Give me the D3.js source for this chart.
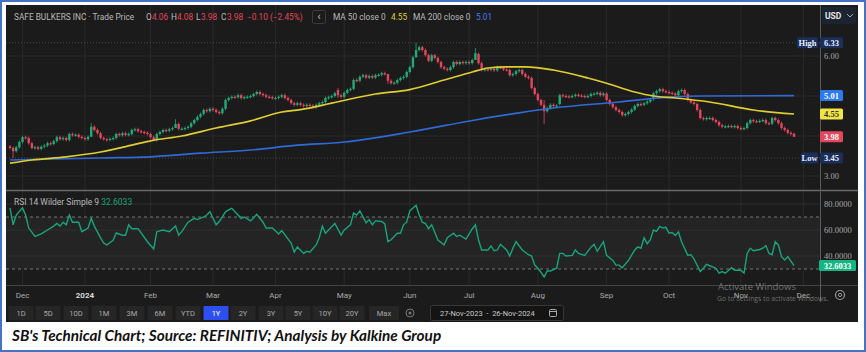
<!DOCTYPE html>
<html>
<head>
<meta charset="utf-8">
<script src="https://cdn.jsdelivr.net/npm/d3@7"></script>
<style>
body { margin: 0; background: #fff; }
svg { display: block; }
</style>
</head>
<body>
<div id="chart"></div>
<script>
var width = 866, height = 352

// trading-day index of each month label
var monthLabels = ["Dec", "2024", "Feb", "Mar", "Apr", "May", "Jun", "Jul", "Aug", "Sep", "Oct", "Nov", "Dec"]
var monthIndex = [4, 24, 45, 65, 85, 107, 128, 147, 169, 191, 211, 234, 254]

// daily bars, 27-Nov-2023 .. 26-Nov-2024
var opens = [
  3.74,3.70,3.62,3.72,3.85,3.97,3.95,3.82,3.70,3.72,
  3.68,3.73,3.76,3.82,3.80,3.87,3.97,3.92,3.95,3.90,
  4.05,4.02,4.03,3.98,3.95,3.92,3.98,4.23,4.15,4.07,
  3.95,3.92,3.90,3.93,3.95,4.05,4.02,4.07,4.03,4.05,
  4.15,4.17,4.12,4.10,4.08,4.05,3.97,3.90,4.05,4.10,
  4.15,4.13,4.17,4.20,4.30,4.18,4.18,4.20,4.23,4.32,
  4.40,4.48,4.55,4.65,4.62,4.68,4.65,4.60,4.57,4.68,
  4.90,4.95,4.98,4.97,5.02,4.95,4.97,4.98,5.00,5.05,
  5.10,5.05,5.02,4.98,4.97,4.95,4.95,4.98,5.02,4.95,
  4.90,4.82,4.78,4.82,4.78,4.75,4.78,4.76,4.72,4.78,
  4.82,4.85,4.95,4.97,5.00,5.15,5.02,4.98,5.08,5.15,
  5.18,5.40,5.38,5.48,5.52,5.46,5.50,5.46,5.52,5.53,
  5.57,5.55,5.38,5.32,5.33,5.40,5.45,5.48,5.60,5.72,
  5.97,6.15,6.22,6.15,6.02,5.88,6.02,5.95,5.85,5.72,
  5.68,5.65,5.72,5.85,5.80,5.85,5.82,5.85,5.82,5.90,
  6.05,5.82,5.65,5.67,5.65,5.68,5.64,5.72,5.70,5.66,
  5.65,5.52,5.55,5.62,5.65,5.55,5.48,5.45,5.20,5.05,
  4.90,4.78,4.62,4.70,4.78,4.75,4.80,5.02,5.00,4.99,
  4.98,5.00,5.03,5.01,5.00,4.98,5.00,5.05,5.06,5.08,
  5.02,5.06,4.90,4.80,4.72,4.65,4.60,4.52,4.55,4.60,
  4.66,4.75,4.80,4.78,4.82,4.86,4.92,5.07,5.12,5.17,
  5.12,5.10,5.08,5.06,5.02,5.12,5.15,5.05,4.90,4.84,
  4.80,4.65,4.45,4.42,4.45,4.45,4.40,4.35,4.27,4.23,
  4.24,4.25,4.23,4.25,4.20,4.18,4.20,4.32,4.40,4.37,
  4.36,4.38,4.40,4.32,4.31,4.45,4.40,4.32,4.20,4.15,
  4.08,4.06]
var closes = [
  3.70,3.62,3.72,3.85,3.97,3.95,3.82,3.70,3.72,3.68,
  3.73,3.76,3.82,3.80,3.87,3.97,3.92,3.95,3.90,4.05,
  4.02,4.03,3.98,3.95,3.92,3.98,4.23,4.15,4.07,3.95,
  3.92,3.90,3.93,3.95,4.05,4.02,4.07,4.03,4.05,4.15,
  4.17,4.12,4.10,4.08,4.05,3.97,3.90,4.05,4.10,4.15,
  4.13,4.17,4.20,4.30,4.18,4.18,4.20,4.23,4.32,4.40,
  4.48,4.55,4.65,4.62,4.68,4.65,4.60,4.57,4.68,4.90,
  4.95,4.98,4.97,5.02,4.95,4.97,4.98,5.00,5.05,5.10,
  5.05,5.02,4.98,4.97,4.95,4.95,4.98,5.02,4.95,4.90,
  4.82,4.78,4.82,4.78,4.75,4.78,4.76,4.72,4.78,4.82,
  4.85,4.95,4.97,5.00,5.07,5.02,4.98,5.08,5.15,5.18,
  5.40,5.38,5.48,5.52,5.46,5.50,5.46,5.52,5.53,5.57,
  5.55,5.38,5.32,5.33,5.40,5.45,5.48,5.60,5.72,5.97,
  6.15,6.22,6.15,6.02,5.88,6.02,5.95,5.85,5.72,5.68,
  5.65,5.72,5.85,5.80,5.85,5.82,5.85,5.82,5.90,6.07,
  5.82,5.65,5.67,5.65,5.68,5.64,5.72,5.70,5.66,5.65,
  5.52,5.55,5.62,5.65,5.55,5.48,5.45,5.20,5.05,4.90,
  4.78,4.62,4.70,4.78,4.75,4.76,5.02,5.00,4.99,4.98,
  5.00,5.03,5.01,5.00,4.98,5.00,5.05,5.06,5.08,5.02,
  5.06,4.90,4.80,4.72,4.65,4.60,4.52,4.55,4.60,4.66,
  4.75,4.80,4.78,4.82,4.86,4.90,5.07,5.12,5.17,5.12,
  5.10,5.08,5.06,5.02,5.12,5.15,5.05,4.90,4.84,4.80,
  4.65,4.45,4.42,4.45,4.45,4.40,4.35,4.27,4.23,4.24,
  4.25,4.23,4.25,4.20,4.18,4.20,4.32,4.40,4.37,4.36,
  4.38,4.40,4.32,4.31,4.45,4.40,4.32,4.20,4.15,4.08,
  4.05,3.98]
// long wicks: [day, high, low]
var spikes = [[1, 3.74, 3.45], [26, 4.32, 3.98], [53, 4.42, 4.20], [105, 5.20, 4.95],
  [121, 5.55, 5.30], [130, 6.33, 5.95], [149, 6.20, 5.90], [171, 4.90, 4.30], [251, 4.08, 3.98]]

// moving averages: [day, value]
var ma50 = [[0,3.32],[7,3.40],[18,3.48],[29,3.60],[39,3.77],[45,3.88],[55,4.00],[66,4.20],
  [77,4.38],[87,4.60],[93,4.66],[103,4.82],[117,5.05],[128,5.16],[139,5.40],[148,5.60],
  [153,5.70],[159,5.73],[165,5.73],[174,5.65],[185,5.45],[191,5.32],[200,5.10],[206,5.00],
  [213,4.95],[224,4.85],[238,4.65],[251,4.55]]
var ma200 = [[0,3.40],[29,3.45],[45,3.48],[61,3.57],[77,3.65],[92,3.77],[107,3.85],[128,4.10],
  [149,4.40],[163,4.58],[174,4.70],[195,4.85],[211,4.97],[222,5.00],[251,5.01]]

// RSI 14: [day, value]
var rsi = [[0,77],[1,64],[2,71.5],[4,77],[5,71.5],[6,61.5],[8,55],[10,57],[12,60],[14,63],[15,65],
  [16,63],[17,66],[18,64],[19,71.5],[20,66],[22,66],[23,58.7],[25,61.5],[26,69],[27,63],[29,54],
  [30,50],[31,48.5],[33,52],[34,57.7],[36,56],[37,56],[38,64],[39,61],[41,61],[44,51],[46,45.4],
  [47,58.7],[49,60],[51,58.7],[53,63],[54,56],[55,58.7],[57,66],[59,69],[60,68],[62,70],[63,71.5],
  [64,74],[66,64],[67,66.5],[69,74],[70,75.5],[71,76.7],[74,69],[75,70],[77,67],[79,72],[81,66],
  [82,61.5],[84,61.5],[86,57],[87,59.5],[90,50],[91,43],[92,47],[94,42],[95,43.6],[96,43],
  [98,48.5],[99,54],[100,63],[101,57.5],[103,62.5],[104,65],[106,56],[107,60],[109,64],[110,73],
  [111,71.5],[112,74.7],[114,65.5],[115,68],[116,64],[117,67],[119,66.5],[120,64.7],[121,51],
  [122,52.5],[124,57.5],[125,57.5],[126,64],[127,66],[128,74.7],[130,79],[131,71.5],[132,66],
  [133,65],[134,61],[135,64],[137,52.3],[139,48.5],[140,54],[142,57.5],[143,55],[144,56],[146,53],
  [148,61],[149,64],[150,52.3],[151,44.6],[153,44.6],[154,47.7],[155,44],[156,44.6],[157,49],
  [159,44.6],[160,40],[161,46],[162,51],[164,44.6],[166,41],[167,40],[168,33],[169,30.6],
  [170,27.5],[171,24],[172,28.5],[173,28.5],[175,30.6],[176,42],[177,42],[178,40],[180,40.5],
  [181,44.6],[182,42],[184,40.5],[186,46.8],[187,49],[188,43.6],[190,51],[191,40.5],[193,36.6],
  [194,33],[195,33],[196,31],[198,36.6],[200,44.6],[201,47],[202,46],[203,54],[204,49.5],
  [205,52.5],[206,60],[207,59],[208,62.8],[209,61.5],[210,62],[211,57.5],[212,58],[213,55.7],
  [214,58.5],[215,51],[217,40.6],[218,41],[219,37.7],[221,28],[222,30.6],[223,33.6],[224,32.5],
  [226,30.6],[227,26.8],[228,28],[229,26.8],[231,31],[232,29],[234,29],[235,26.8],[236,42],
  [237,46],[238,44],[240,45],[241,46],[242,48],[243,42],[244,41],[245,51],[246,48.5],[247,39.5],
  [248,37],[249,39.5],[251,32.6033]]

var priceTicks = [3, 4, 5, 6]
var rsiTicks = [40, 60, 80]
var rsiBands = [30, 70]
var sessionHigh = 6.33, sessionLow = 3.45
var lastBar = {open: 4.06, high: 4.08, low: 3.98, close: 3.98, change: -0.10, pct: -2.45}
var rangeButtons = ["1D", "5D", "10D", "1M", "3M", "6M", "YTD", "1Y", "2Y", "3Y", "5Y", "10Y", "20Y", "Max"]
var dateRange = "27-Nov-2023  -  26-Nov-2024"
var caption = "SB's Technical Chart; Source: REFINITIV; Analysis by Kalkine Group"

// layout
var dark = {left: 6, top: 5, right: 858, bottom: 322}
var axisX = 820
var pricePanel = {top: 5, bottom: 190}
var rsiPanel = {top: 192, bottom: 285}
var buttonCenters = [21, 48, 76, 104, 132, 160, 188, 216, 243, 271, 298, 325, 352, 384]

var green = "#22ab78", red = "#e4465c", yellow = "#e0cd32", blue = "#2f6ad8", rsiColor = "#17a57a"
var uiFont = "Roboto, 'Liberation Sans', sans-serif"
var axisFont = "'Liberation Serif', 'DejaVu Serif', serif"

var svg, xScale, yPrice, yRsi

createChart()

function createChart()
{
    svg = d3.select("#chart")
        .append("svg")
        .attr("width", width)
        .attr("height", height)

    svg.append("rect")
        .attr("x", 1).attr("y", 1)
        .attr("width", width - 2).attr("height", height - 2)
        .attr("fill", "#fff")
        .attr("stroke", "#4472c4")
        .attr("stroke-width", 2)

    svg.append("rect")
        .attr("x", dark.left).attr("y", dark.top)
        .attr("width", dark.right - dark.left).attr("height", dark.bottom - dark.top)
        .attr("fill", "#1b1b1b")

    xScale = d3.scaleLinear()
        .domain([0, 251])
        .range([10, 794])
    yPrice = d3.scaleLinear()
        .domain([3, 6])
        .range([176, 56])
    yRsi = d3.scaleLinear()
        .domain([40, 80])
        .range([256, 204])

    var defs = svg.append("defs")
    defs.append("clipPath").attr("id", "clipPrice")
        .append("rect")
        .attr("x", dark.left).attr("y", pricePanel.top)
        .attr("width", axisX - dark.left).attr("height", pricePanel.bottom - pricePanel.top)
    defs.append("clipPath").attr("id", "clipRsi")
        .append("rect")
        .attr("x", dark.left).attr("y", rsiPanel.top)
        .attr("width", axisX - dark.left).attr("height", rsiPanel.bottom - rsiPanel.top)

    drawGrid()
    drawPrice()
    drawRsi()
    drawHeader()
    drawTimeAxis()
    drawButtons()

    svg.append("text")
        .attr("x", 12).attr("y", 341)
        .attr("font-family", "Lato, 'Open Sans', sans-serif")
        .attr("font-weight", "bold")
        .attr("font-style", "italic")
        .attr("font-size", "15.3px")
        .attr("fill", "#111")
        .text(caption)
}

function drawGrid()
{
    // monthly verticals
    svg.append("g").selectAll("line")
        .data(monthIndex)
        .join("line")
        .attr("x1", function(d) { return xScale(d) }).attr("x2", function(d) { return xScale(d) })
        .attr("y1", dark.top).attr("y2", rsiPanel.bottom)
        .attr("stroke", "#2a2a2a")

    svg.append("g").selectAll("line")
        .data(priceTicks)
        .join("line")
        .attr("x1", dark.left).attr("x2", axisX)
        .attr("y1", function(d) { return yPrice(d) }).attr("y2", function(d) { return yPrice(d) })
        .attr("stroke", "#2b2b2b")

    svg.append("g").selectAll("line")
        .data([sessionHigh, sessionLow])
        .join("line")
        .attr("x1", dark.left).attr("x2", axisX)
        .attr("y1", function(d) { return yPrice(d) }).attr("y2", function(d) { return yPrice(d) })
        .attr("stroke", "#4a4a4a")
        .attr("stroke-dasharray", "1,2")

    // separators
    svg.append("line")
        .attr("x1", dark.left).attr("x2", dark.right)
        .attr("y1", 190.5).attr("y2", 190.5)
        .attr("stroke", "#6a6a6a").attr("stroke-width", 1.5)
    svg.append("line")
        .attr("x1", dark.left).attr("x2", dark.right)
        .attr("y1", 285.5).attr("y2", 285.5)
        .attr("stroke", "#444")
    svg.append("line")
        .attr("x1", axisX + 0.5).attr("x2", axisX + 0.5)
        .attr("y1", dark.top).attr("y2", 302)
        .attr("stroke", "#5c5c5c")
}

function drawPrice()
{
    var g = svg.append("g").attr("clip-path", "url(#clipPrice)")

    var bars = closes.map(function(c, i) { return {i: i, open: opens[i], close: c} })
    spikes.forEach(function(s) { bars[s[0]].high = s[1]; bars[s[0]].low = s[2] })

    g.append("g").selectAll("line")
        .data(bars)
        .join("line")
        .attr("x1", function(d) { return xScale(d.i) }).attr("x2", function(d) { return xScale(d.i) })
        .attr("y1", function(d) { return d.high != null ? yPrice(d.high) : yPrice(Math.max(d.open, d.close)) - 1.5 })
        .attr("y2", function(d) { return d.low != null ? yPrice(d.low) : yPrice(Math.min(d.open, d.close)) + 1.5 })
        .attr("stroke", function(d) { return d.close >= d.open ? green : red })
        .attr("stroke-width", 0.8)

    g.append("g").selectAll("rect")
        .data(bars)
        .join("rect")
        .attr("x", function(d) { return xScale(d.i) - 1.2 })
        .attr("width", 2.4)
        .attr("y", function(d) { return yPrice(Math.max(d.open, d.close)) })
        .attr("height", function(d) { return Math.max(1.2, Math.abs(yPrice(d.open) - yPrice(d.close))) })
        .attr("fill", function(d) { return d.close >= d.open ? green : red })

    var line = d3.line()
        .x(function(d) { return xScale(d[0]) })
        .y(function(d) { return yPrice(d[1]) })
        .curve(d3.curveMonotoneX)

    g.append("path").datum(ma200)
        .attr("d", line)
        .attr("fill", "none").attr("stroke", blue).attr("stroke-width", 1.7)
    g.append("path").datum(ma50)
        .attr("d", line)
        .attr("fill", "none").attr("stroke", yellow).attr("stroke-width", 1.7)

    var axis = svg.append("g")
        .attr("transform", "translate(" + axisX + ",0)")
        .call(d3.axisRight(yPrice).tickValues(priceTicks).tickFormat(d3.format(".2f")).tickSize(0).tickPadding(4))
    styleAxis(axis)

    badge(axisX, yPrice(sessionHigh), 23, d3.format(".2f")(sessionHigh), "#1b2f5c", "#e8eefc")
    badge(axisX - 23, yPrice(sessionHigh), 21, "High", "#1b2f5c", "#e8eefc")
    badge(axisX, yPrice(ma200[ma200.length - 1][1]), 23, d3.format(".2f")(ma200[ma200.length - 1][1]), "#2b7af0", "#fff")
    badge(axisX, yPrice(ma50[ma50.length - 1][1]), 23, d3.format(".2f")(ma50[ma50.length - 1][1]), "#f2e445", "#333")
    badge(axisX, yPrice(lastBar.close), 23, d3.format(".2f")(lastBar.close), red, "#fff")
    badge(axisX, yPrice(sessionLow), 23, d3.format(".2f")(sessionLow), "#1b2f5c", "#e8eefc")
    badge(axisX - 19, yPrice(sessionLow), 17, "Low", "#1b2f5c", "#e8eefc")
}

function drawRsi()
{
    svg.append("rect")
        .attr("x", dark.left).attr("width", axisX - dark.left)
        .attr("y", yRsi(rsiBands[1])).attr("height", yRsi(rsiBands[0]) - yRsi(rsiBands[1]))
        .attr("fill", "#242424")

    svg.append("g").selectAll("line")
        .data(rsiTicks)
        .join("line")
        .attr("x1", dark.left).attr("x2", axisX)
        .attr("y1", function(d) { return yRsi(d) }).attr("y2", function(d) { return yRsi(d) })
        .attr("stroke", "#2e2e2e")

    svg.append("g").selectAll("line")
        .data(rsiBands)
        .join("line")
        .attr("x1", dark.left).attr("x2", axisX)
        .attr("y1", function(d) { return yRsi(d) }).attr("y2", function(d) { return yRsi(d) })
        .attr("stroke", "#777")
        .attr("stroke-dasharray", "3,3")

    svg.append("g").attr("clip-path", "url(#clipRsi)")
        .append("path").datum(rsi)
        .attr("d", d3.line()
            .x(function(d) { return xScale(d[0]) })
            .y(function(d) { return yRsi(d[1]) }))
        .attr("fill", "none").attr("stroke", rsiColor).attr("stroke-width", 1.4)

    var axis = svg.append("g")
        .attr("transform", "translate(" + axisX + ",0)")
        .call(d3.axisRight(yRsi).tickValues(rsiTicks).tickFormat(d3.format(".4f")).tickSize(0).tickPadding(4))
    styleAxis(axis)

    var last = rsi[rsi.length - 1][1]
    badge(axisX - 1, yRsi(last), 37, d3.format(".4f")(last), "#13b583", "#fff")

    var t = svg.append("text")
        .attr("x", 14).attr("y", 205)
        .attr("font-family", uiFont).attr("font-size", "8.5px")
    t.append("tspan").attr("fill", "#b8b8b8").text("RSI 14 Wilder Simple 9  ")
    t.append("tspan").attr("fill", rsiColor).text(d3.format(".4f")(last))
}

function styleAxis(axis)
{
    axis.select(".domain").remove()
    axis.selectAll("text")
        .attr("fill", "#a8a8a8")
        .attr("font-family", axisFont)
        .attr("font-size", "8.5px")
}

function badge(x, yc, w, label, fill, color)
{
    svg.append("rect")
        .attr("x", x).attr("y", yc - 5.5)
        .attr("width", w).attr("height", 11)
        .attr("rx", 1.5)
        .attr("fill", fill)
    svg.append("text")
        .attr("x", x + w / 2).attr("y", yc + 3)
        .attr("text-anchor", "middle")
        .attr("font-family", axisFont)
        .attr("font-size", "8.5px")
        .attr("font-weight", "bold")
        .attr("fill", color)
        .text(label)
}

function drawHeader()
{
    var f2 = d3.format(".2f")
    var sign = function(v) { return (v < 0 ? "\u2212" : "+") + f2(Math.abs(v)) }
    var parts = [
        [14, "SAFE BULKERS INC \u00b7 Trade Price", "#b8b8b8"],
        [146, "O", "#b8b8b8"], [152, f2(lastBar.open), red],
        [171, "H", "#b8b8b8"], [177, f2(lastBar.high), red],
        [196, "L", "#b8b8b8"], [201, f2(lastBar.low), red],
        [221, "C", "#b8b8b8"], [227, f2(lastBar.close), red],
        [247, sign(lastBar.change) + " (" + sign(lastBar.pct) + "%)", red],
        [333, "MA 50 close 0", "#b8b8b8"], [391, f2(ma50[ma50.length - 1][1]), yellow],
        [413, "MA 200 close 0", "#b8b8b8"], [476, f2(ma200[ma200.length - 1][1]), "#3d7ff0"]
    ]
    svg.append("g").selectAll("text")
        .data(parts)
        .join("text")
        .attr("x", function(d) { return d[0] })
        .attr("y", 19.5)
        .attr("font-family", uiFont)
        .attr("font-size", "8.3px")
        .attr("fill", function(d) { return d[2] })
        .text(function(d) { return d[1] })

    svg.append("rect")
        .attr("x", 312.5).attr("y", 10.5).attr("width", 13).attr("height", 13).attr("rx", 2)
        .attr("fill", "#1b1b1b").attr("stroke", "#3c3c3c")
    svg.append("text")
        .attr("x", 319).attr("y", 20).attr("text-anchor", "middle")
        .attr("font-family", uiFont).attr("font-size", "10px").attr("fill", "#ccc")
        .text("\u2039")

    // currency selector
    svg.append("rect")
        .attr("x", 822).attr("y", 7).attr("width", 34).attr("height", 17).attr("rx", 2)
        .attr("fill", "#1d2431")
    svg.append("text")
        .attr("x", 825).attr("y", 18.5)
        .attr("font-family", uiFont).attr("font-size", "8.5px").attr("font-weight", "bold")
        .attr("fill", "#e6e6e6").text("USD")
    svg.append("path")
        .attr("d", "M847,14 L850,17 L853,14")
        .attr("fill", "none").attr("stroke", "#aaa").attr("stroke-width", 1)
}

function drawTimeAxis()
{
    svg.append("g").selectAll("text")
        .data(monthLabels.map(function(m, i) { return [m, monthIndex[i]] }))
        .join("text")
        .attr("x", function(d) { return xScale(d[1]) })
        .attr("y", 298)
        .attr("text-anchor", "middle")
        .attr("font-family", uiFont)
        .attr("font-size", "8px")
        .attr("font-weight", function(d) { return d[0] == "2024" ? "bold" : "normal" })
        .attr("fill", function(d) { return d[0] == "2024" ? "#d8d8d8" : "#aaa" })
        .text(function(d) { return d[0] })

    // gear
    svg.append("circle").attr("cx", 840).attr("cy", 295).attr("r", 4.5)
        .attr("fill", "none").attr("stroke", "#9a9a9a").attr("stroke-width", 1.2)
    svg.append("circle").attr("cx", 840).attr("cy", 295).attr("r", 1.6)
        .attr("fill", "none").attr("stroke", "#9a9a9a")

    // os watermark, drawn over the axis as in the screenshot
    svg.append("text")
        .attr("x", 718).attr("y", 290)
        .attr("font-family", "'Open Sans', sans-serif").attr("font-size", "9.5px")
        .attr("fill", "#9a9a9a").attr("fill-opacity", 0.7)
        .text("Activate Windows")
    svg.append("text")
        .attr("x", 717).attr("y", 301)
        .attr("font-family", "'Open Sans', sans-serif").attr("font-size", "6.8px")
        .attr("fill", "#9a9a9a").attr("fill-opacity", 0.7)
        .text("Go to Settings to activate Windows.")
}

function drawButtons()
{
    var g = svg.append("g")
    rangeButtons.forEach(function(b, i)
    {
        var w = b == "Max" ? 30 : 25
        var cx = buttonCenters[i]
        g.append("rect")
            .attr("x", cx - w / 2).attr("y", 306)
            .attr("width", w).attr("height", 14)
            .attr("fill", b == "1Y" ? "#2d4ff0" : "#262626")
        g.append("text")
            .attr("x", cx).attr("y", 316)
            .attr("text-anchor", "middle")
            .attr("font-family", uiFont).attr("font-size", "7.5px")
            .attr("fill", b == "1Y" ? "#fff" : "#a8a8a8")
            .text(b)
    })

    g.append("circle").attr("cx", 410).attr("cy", 313).attr("r", 4)
        .attr("fill", "none").attr("stroke", "#777")
    g.append("circle").attr("cx", 410).attr("cy", 313).attr("r", 1.5).attr("fill", "#777")

    g.append("rect")
        .attr("x", 430.5).attr("y", 305.5).attr("width", 133).attr("height", 15).attr("rx", 2)
        .attr("fill", "#141414").attr("stroke", "#383838")
    g.append("text")
        .attr("x", 440).attr("y", 316)
        .attr("font-family", uiFont).attr("font-size", "7.5px").attr("fill", "#c8c8c8")
        .attr("xml:space", "preserve")
        .text(dateRange)
    g.append("rect")
        .attr("x", 549.5).attr("y", 309.5).attr("width", 7).attr("height", 7).attr("rx", 1)
        .attr("fill", "none").attr("stroke", "#aaa")
    g.append("line")
        .attr("x1", 549.5).attr("x2", 556.5).attr("y1", 311.5).attr("y2", 311.5)
        .attr("stroke", "#aaa")
}
</script>
</body>
</html>
